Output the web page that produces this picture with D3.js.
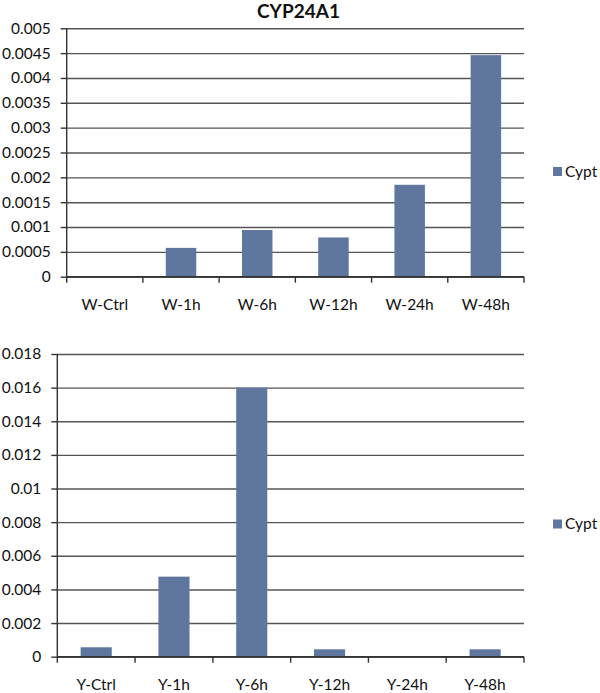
<!DOCTYPE html>
<html>
<head>
<meta charset="utf-8">
<script src="https://cdn.jsdelivr.net/npm/d3@7"></script>
<style>
  body { margin: 0; background: #fff; }
  svg text { font-family: Lato, "Open Sans", sans-serif; fill: #111; }
</style>
</head>
<body>
<div id="chart"></div>
<script>
// datos
const titulo = "CYP24A1";
const serie = "Cypt";

const catW = ["W-Ctrl", "W-1h", "W-6h", "W-12h", "W-24h", "W-48h"];
const valW = [0, 0.00058, 0.00094, 0.00079, 0.00185, 0.00446];
const ticksW = [0, 0.0005, 0.001, 0.0015, 0.002, 0.0025, 0.003, 0.0035, 0.004, 0.0045, 0.005];

const catY = ["Y-Ctrl", "Y-1h", "Y-6h", "Y-12h", "Y-24h", "Y-48h"];
const valY = [0.00056, 0.00476, 0.016, 0.00044, 0, 0.00044];
const ticksY = [0, 0.002, 0.004, 0.006, 0.008, 0.01, 0.012, 0.014, 0.016, 0.018];

const width = 600;
const height = 693;
const barColor = "#5f779e";
const gridColor = "#555";

const svg = d3.select("#chart")
  .append("svg")
  .attr("width", width)
  .attr("height", height);

// titulo
svg.append("text")
  .attr("x", 298.5)
  .attr("y", 18)
  .attr("text-anchor", "middle")
  .style("font-size", "19px")
  .style("font-weight", "bold")
  .text(titulo);

function drawChart(cats, vals, ticks, box) {
  const g = svg.append("g");

  const y = d3.scaleLinear()
    .domain([0, d3.max(ticks)])
    .range([box.bottom, box.top]);

  const xCat = d3.scaleBand()
    .domain(cats)
    .range([box.left, box.right])
    .padding(0);

  const xBar = d3.scaleBand()
    .domain(cats)
    .range([box.left, box.right])
    .paddingInner(0.6)
    .paddingOuter(0.3);

  // lineas de cuadricula
  g.append("g")
    .attr("transform", `translate(${box.left},0)`)
    .call(d3.axisLeft(y).tickValues(ticks).tickSize(-(box.right - box.left)).tickFormat(""))
    .call(s => s.select(".domain").remove())
    .call(s => s.selectAll("line").attr("stroke", gridColor).attr("stroke-width", 1.4));

  // barras
  g.selectAll("rect")
    .data(vals)
    .enter()
    .append("rect")
    .attr("x", (d, i) => xBar(cats[i]))
    .attr("y", d => y(d))
    .attr("width", xBar.bandwidth())
    .attr("height", d => box.bottom - y(d))
    .attr("fill", barColor);

  // eje Y
  g.append("g")
    .attr("transform", `translate(${box.left},0)`)
    .call(d3.axisLeft(y).tickValues(ticks).tickSize(6).tickPadding(10).tickFormat(d3.format("~g")))
    .call(s => s.select(".domain").attr("d", `M0,${box.top}V${box.bottom}`).attr("stroke", "#333").attr("stroke-width", 1.4))
    .call(s => s.selectAll("line").attr("stroke", "#333").attr("stroke-width", 1.4))
    .call(s => s.selectAll("text").style("font-size", "15.5px").attr("fill", "#111"));

  // eje X
  const gx = g.append("g")
    .attr("transform", `translate(0,${box.bottom})`);

  gx.append("line")
    .attr("x1", box.left)
    .attr("x2", box.right)
    .attr("stroke", "#333")
    .attr("stroke-width", 1.4);

  const bordes = cats.map(c => xCat(c)).concat([box.right]);
  gx.selectAll(".tick-x")
    .data(bordes)
    .enter()
    .append("line")
    .attr("class", "tick-x")
    .attr("x1", d => d)
    .attr("x2", d => d)
    .attr("y1", 0)
    .attr("y2", 6)
    .attr("stroke", "#333")
    .attr("stroke-width", 1.4);

  gx.selectAll(".label-x")
    .data(cats)
    .enter()
    .append("text")
    .attr("class", "label-x")
    .attr("x", d => xCat(d) + xCat.bandwidth() / 2)
    .attr("y", 33)
    .attr("text-anchor", "middle")
    .style("font-size", "15.5px")
    .text(d => d);

  // leyenda
  const leg = g.append("g")
    .attr("transform", `translate(553,${box.legendY})`);
  leg.append("rect")
    .attr("x", 0)
    .attr("y", -4.5)
    .attr("width", 9)
    .attr("height", 9)
    .attr("fill", barColor);
  leg.append("text")
    .attr("x", 12)
    .attr("y", 0)
    .attr("dy", "0.35em")
    .style("font-size", "15.5px")
    .text(serie);
}

drawChart(catW, valW, ticksW, { left: 66.7, right: 524, top: 28.3, bottom: 276.7, legendY: 171.5 });
drawChart(catY, valY, ticksY, { left: 57.3, right: 524, top: 354, bottom: 656.7, legendY: 524 });
</script>
</body>
</html>
